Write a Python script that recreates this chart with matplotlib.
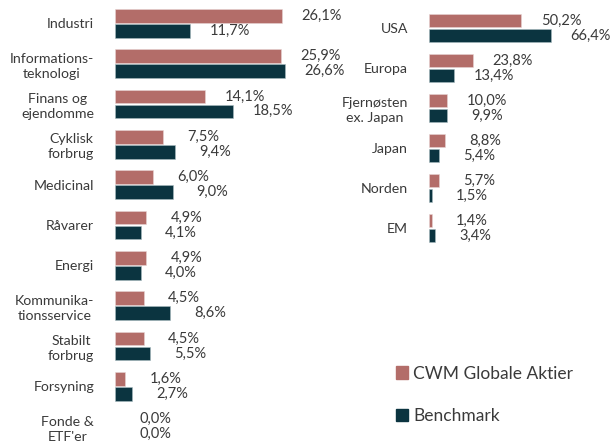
import numpy as np
import matplotlib.pyplot as plt
from matplotlib.patches import Patch

# sektorer (venstre)
sektorer = ["Industri", "Informations-\nteknologi", "Finans og\nejendomme", "Cyklisk\nforbrug",
            "Medicinal", "Råvarer", "Energi", "Kommunika-\ntionsservice", "Stabilt\nforbrug",
            "Forsyning", "Fonde &\nETF'er"]
sektor_fond = [26.1, 25.9, 14.1, 7.5, 6.0, 4.9, 4.9, 4.5, 4.5, 1.6, 0.0]
sektor_bench = [11.7, 26.6, 18.5, 9.4, 9.0, 4.1, 4.0, 8.6, 5.5, 2.7, 0.0]

# regioner (højre)
regioner = ["USA", "Europa", "Fjernøsten\nex. Japan", "Japan", "Norden", "EM"]
region_fond = [50.2, 23.8, 10.0, 8.8, 5.7, 1.4]
region_bench = [66.4, 13.4, 9.9, 5.4, 1.5, 3.4]

navne = ["CWM Globale Aktier", "Benchmark"]
farve_fond = "#b36d69"
farve_bench = "#0b3440"
tekst = "#3a3a3a"

plt.rcParams['font.family'] = ['Lato', 'DejaVu Sans']

W, H = 612, 445
fig = plt.figure(figsize=(W / 100, H / 100), dpi=100)

def ax_px(x0, x1, y0, y1):
    # pixel-koordinater (fra top) -> figurbrøk
    return fig.add_axes([x0 / W, (H - y1) / H, (x1 - x0) / W, (y1 - y0) / H])

def tegn(ax, kategorier, fond, bench, xmax):
    y = np.arange(len(kategorier))
    h = 0.34
    lw_f = [0.4 if v > 0 else 0 for v in fond]
    lw_b = [0.4 if v > 0 else 0 for v in bench]
    ax.barh(y - 0.185, fond, height=h, color=farve_fond, edgecolor="#e8d5d4", linewidth=lw_f)
    ax.barh(y + 0.185, bench, height=h, color=farve_bench, edgecolor="#a9bcc0", linewidth=lw_b)
    for yi, v in zip(y, fond):
        ax.annotate(f"{v:.1f}%".replace(".", ","), (v, yi - 0.185), xytext=(28.8, 0),
                    textcoords="offset points", ha="center", va="center", fontsize=10.5, color=tekst)
    for yi, v in zip(y, bench):
        ax.annotate(f"{v:.1f}%".replace(".", ","), (v, yi + 0.185), xytext=(28.8, 0),
                    textcoords="offset points", ha="center", va="center", fontsize=10.5, color=tekst)
    ax.set_xlim(0, xmax)
    ax.set_ylim(len(kategorier) - 0.5, -0.5)
    ax.set_yticks(y)
    ax.set_yticklabels(kategorier, fontsize=10.2, color=tekst, multialignment="center",
                       linespacing=1.3)
    ax.tick_params(axis="y", length=0, pad=15)
    ax.set_xticks([])
    for s in ax.spines.values():
        s.set_visible(False)
    ax.patch.set_alpha(0)

ax1 = ax_px(115, 115 + 30 * 6.39, 3, 447)
tegn(ax1, sektorer, sektor_fond, sektor_bench, 30)

ax2 = ax_px(429, 429 + 70 * 1.833, 8, 248)
tegn(ax2, regioner, region_fond, region_bench, 70)

handles = [Patch(color=farve_fond), Patch(color=farve_bench)]
fig.legend(handles, navne, loc="upper left", bbox_to_anchor=(380 / W, 1 - 350 / H),
           frameon=False, fontsize=12.5, handlelength=0.7, handleheight=0.7,
           handletextpad=0.3, labelspacing=1.5, labelcolor=tekst)

fig.savefig("out.png", dpi=100)
